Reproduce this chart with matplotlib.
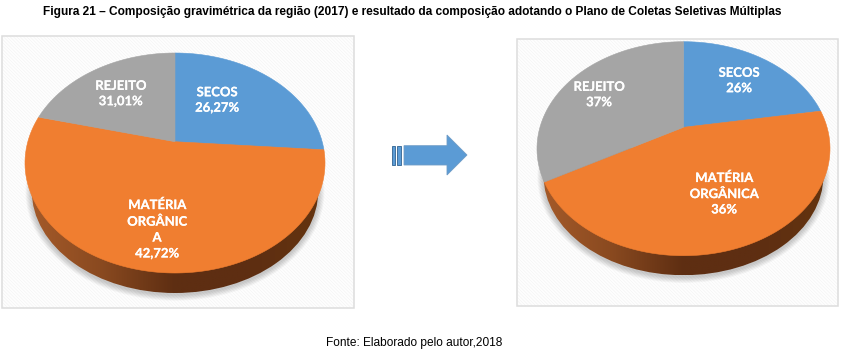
import numpy as np
import matplotlib
matplotlib.use("Agg")
import matplotlib.pyplot as plt
import matplotlib.patheffects as pe
from matplotlib.patches import Rectangle, Polygon, Ellipse
from matplotlib.colors import LinearSegmentedColormap

W, H = 853, 361

categories = ["SECOS", "MATÉRIA ORGÂNICA", "REJEITO"]
slice_colors = ["#5B9BD5", "#F07E30", "#A5A5A5"]
# slice sizes as they appear in the picture (clockwise from the top)
shares_2017 = [26.2, 52.7, 21.1]
shares_plan = [22.4, 44.6, 33.0]
# printed labels
labels_2017 = ["SECOS\n26,27%", "MATÉRIA\nORGÂNIC\nA\n42,72%", "REJEITO\n31,01%"]
labels_plan = ["SECOS\n26%", "MATÉRIA\nORGÂNICA\n36%", "REJEITO\n37%"]

title = ("Figura 21 – Composição gravimétrica da região (2017) e resultado da "
         "composição adotando o Plano de Coletas Seletivas Múltiplas")
source = "Fonte: Elaborado pelo autor,2018"

fig = plt.figure(figsize=(W / 100, H / 100), dpi=100, facecolor="white")
ax = fig.add_axes([0, 0, 1, 1])
ax.set_xlim(0, W)
ax.set_ylim(H, 0)
ax.axis("off")
plt.rcParams["hatch.linewidth"] = 0.4

wall_cmap = LinearSegmentedColormap.from_list(
    "wall", ["#A65B2A", "#8A4A20", "#5E2E12", "#5E2E12", "#64340F"])


def panel(x0, y0, x1, y1):
    ax.add_patch(Rectangle((x0, y0), x1 - x0, y1 - y0, facecolor="#FEFEFE",
                           edgecolor="#F2F2F2", hatch="\\\\\\\\\\\\\\\\\\\\", lw=0, zorder=1))
    ax.add_patch(Rectangle((x0, y0), x1 - x0, y1 - y0, fill=False,
                           edgecolor="#DDDDDD", lw=1.1, zorder=1.1))


def pie3d(shares, labels, label_pos, cx, cy, rx, ry, apex_y, depth, fs):
    a = (cy - apex_y) / ry
    s = np.sqrt(1 - a * a)

    def project(th):
        # th clockwise from top on the tilted disc; perspective keeps the rim an ellipse
        u, v = np.sin(th), np.cos(th)
        d = 1 + a * v
        return cx + rx * s * u / d, cy - ry * (v + a) / d

    # soft shadow
    rxb, ryb = rx * 0.955, ry * 0.93
    cyb = cy + ry + depth - ryb
    for k in range(9, 0, -1):
        ax.add_patch(Ellipse((cx, cyb + 1.5), 2 * (rxb + k * 0.7), 2 * (ryb + k * 0.7),
                             facecolor="#000000", alpha=0.022, lw=0, zorder=2))

    # wall with a left-to-right gradient
    grad = np.linspace(0, 1, 256)[None, :]
    im = ax.imshow(grad, extent=(cx - rx, cx + rx, cy + ry + depth, cy), cmap=wall_cmap,
                   aspect="auto", zorder=3, interpolation="bilinear")
    clip = Ellipse((cx, cyb), 2 * rxb, 2 * ryb, transform=ax.transData)
    im.set_clip_path(clip)

    # top face
    total = sum(shares)
    start = 0.0
    for share, col in zip(shares, slice_colors):
        end = start + share / total * 2 * np.pi
        th = np.linspace(start, end, 240)
        xs, ys = project(th)
        pts = np.column_stack([np.r_[cx, xs], np.r_[apex_y, ys]])
        ax.add_patch(Polygon(pts, closed=True, facecolor=col, edgecolor=col, lw=0.4, zorder=4))
        start = end

    for lab, (lx, ly) in zip(labels, label_pos):
        ax.text(lx, ly, lab, color="white", ha="center", va="center", fontsize=fs,
                family="Lato", fontweight="bold", linespacing=LS[len(lab.split("\n"))], zorder=5,
                path_effects=[pe.withStroke(linewidth=0.12, foreground="white")])


LS = {2: 1.34, 3: 1.34, 4: 1.39}

panel(2.5, 35.5, 354.5, 308)
pie3d(shares_2017, labels_2017, [(217, 100), (157, 229), (120.7, 93.5)],
      175, 163, 150, 110, 141.7, 20, 9.4)

panel(517.5, 38.5, 838, 305.5)
pie3d(shares_plan, labels_plan, [(739, 80.5), (724, 193.5), (599, 94.5)],
      683.5, 148.7, 146.5, 107, 127.3, 19.5, 9.4)

# arrow
arrow_col, arrow_edge = "#5B9BD5", "#41719C"
ax.add_patch(Rectangle((392.3, 145.5), 3, 19.5, facecolor=arrow_col, edgecolor=arrow_edge, lw=0.7, zorder=3))
ax.add_patch(Rectangle((397.3, 145.5), 4.2, 19.5, facecolor=arrow_col, edgecolor=arrow_edge, lw=0.7, zorder=3))
ax.add_patch(Polygon([(404, 145.7), (447, 145.7), (447, 135), (467, 155), (447, 175),
                      (447, 165), (404, 165)], closed=True, facecolor=arrow_col,
                     edgecolor="#6f9cc6", lw=0.6, zorder=3))

ax.text(412.5, 10.5, title, ha="center", va="center_baseline", fontsize=8.58,
        family="Liberation Sans", fontweight="bold", color="black")
ax.text(414, 341.5, source, ha="center", va="center_baseline", fontsize=8.6,
        family="Liberation Sans", color="black")

fig.savefig("out.png", dpi=100, facecolor="white")
